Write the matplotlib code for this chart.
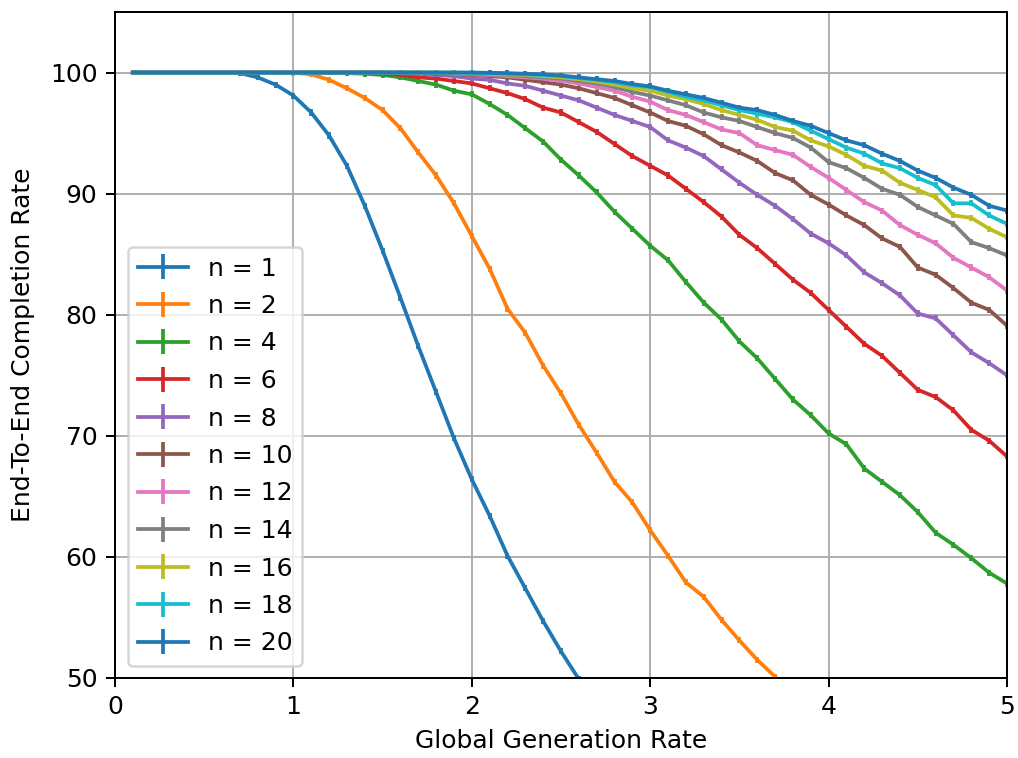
# -*- coding: utf-8 -*-

import numpy as np
import matplotlib
matplotlib.use("Agg")
import matplotlib.pyplot as plt

# ---------------
# Data
# ---------------

# Global generation rate, 0.1 .. 5.0
rate = [0.1, 0.2, 0.3, 0.4, 0.5, 0.6, 0.7, 0.8, 0.9, 1.0,
        1.1, 1.2, 1.3, 1.4, 1.5, 1.6, 1.7, 1.8, 1.9, 2.0,
        2.1, 2.2, 2.3, 2.4, 2.5, 2.6, 2.7, 2.8, 2.9, 3.0,
        3.1, 3.2, 3.3, 3.4, 3.5, 3.6, 3.7, 3.8, 3.9, 4.0,
        4.1, 4.2, 4.3, 4.4, 4.5, 4.6, 4.7, 4.8, 4.9, 5.0]

n_values = [1, 2, 4, 6, 8, 10, 12, 14, 16, 18, 20]

n1 = [100, 100, 100, 100, 100, 100, 99.95, 99.6, 99.0, 98.1,
      96.7, 94.8, 92.3, 89.0, 85.3, 81.4, 77.4, 73.6, 69.8, 66.4,
      63.4, 60.1, 57.4, 54.7, 52.2, 49.9, 47.6, 45.4, 43.3, 41.3,
      39.4, 37.6, 35.9, 34.3, 32.8, 31.4, 30.1, 28.9, 27.7, 26.6,
      25.6, 24.6, 23.7, 22.8, 22.0, 21.2, 20.5, 19.8, 19.1, 18.5]

n2 = [100, 100, 100, 100, 100, 100, 100, 100, 100, 99.98,
      99.85, 99.4, 98.7, 97.9, 96.9, 95.4, 93.4, 91.5, 89.2, 86.5,
      83.8, 80.5, 78.5, 75.8, 73.5, 70.9, 68.6, 66.2, 64.5, 62.2,
      60.1, 57.9, 56.7, 54.8, 53.1, 51.5, 50.1, 48.6, 47.2, 45.9,
      44.6, 43.4, 42.2, 41.1, 40.0, 39.0, 38.0, 37.1, 36.2, 35.3]

n4 = [100, 100, 100, 100, 100, 100, 100, 100, 100, 100,
      100, 100, 99.95, 99.9, 99.8, 99.6, 99.3, 99.0, 98.5, 98.2,
      97.4, 96.5, 95.4, 94.3, 92.8, 91.5, 90.1, 88.5, 87.1, 85.7,
      84.5, 82.7, 81.0, 79.6, 77.8, 76.4, 74.7, 73.0, 71.7, 70.2,
      69.3, 67.3, 66.2, 65.1, 63.7, 62.0, 61.0, 59.9, 58.7, 57.8]

n6 = [100, 100, 100, 100, 100, 100, 100, 100, 100, 100,
      100, 100, 100, 99.95, 99.9, 99.8, 99.6, 99.5, 99.3, 99.1,
      98.7, 98.3, 97.8, 97.1, 96.7, 95.9, 95.1, 94.1, 93.1, 92.3,
      91.5, 90.4, 89.3, 88.1, 86.6, 85.5, 84.2, 82.9, 81.8, 80.4,
      79.0, 77.6, 76.6, 75.2, 73.8, 73.2, 72.1, 70.5, 69.6, 68.3]

n8 = [100, 100, 100, 100, 100, 100, 100, 100, 100, 100,
      100, 100, 100, 100, 99.98, 99.95, 99.9, 99.8, 99.7, 99.5,
      99.4, 99.1, 98.9, 98.5, 98.1, 97.7, 97.1, 96.5, 96.0, 95.5,
      94.4, 93.8, 93.1, 92.0, 90.9, 89.9, 89.0, 87.9, 86.7, 85.9,
      84.9, 83.5, 82.6, 81.6, 80.1, 79.7, 78.3, 76.9, 76.0, 75.0]

n10 = [100, 100, 100, 100, 100, 100, 100, 100, 100, 100,
       100, 100, 100, 100, 100, 99.98, 99.95, 99.9, 99.85, 99.8,
       99.7, 99.6, 99.4, 99.2, 99.0, 98.7, 98.3, 97.9, 97.3, 96.7,
       96.0, 95.6, 94.9, 94.0, 93.4, 92.7, 91.7, 91.1, 89.9, 89.1,
       88.2, 87.4, 86.3, 85.6, 83.9, 83.3, 82.2, 81.0, 80.4, 79.1]

n12 = [100, 100, 100, 100, 100, 100, 100, 100, 100, 100,
       100, 100, 100, 100, 100, 100, 99.98, 99.95, 99.9, 99.85,
       99.8, 99.7, 99.6, 99.5, 99.3, 99.1, 98.8, 98.5, 98.0, 97.6,
       96.9, 96.5, 95.9, 95.3, 95.0, 94.0, 93.6, 93.2, 92.2, 91.3,
       90.3, 89.3, 88.6, 87.4, 86.6, 85.9, 84.7, 83.9, 83.1, 82.0]

n14 = [100, 100, 100, 100, 100, 100, 100, 100, 100, 100,
       100, 100, 100, 100, 100, 100, 100, 99.98, 99.95, 99.9,
       99.85, 99.8, 99.7, 99.6, 99.5, 99.3, 99.1, 98.8, 98.4, 98.1,
       97.7, 97.3, 96.7, 96.3, 96.0, 95.5, 95.0, 94.6, 93.8, 92.6,
       92.1, 91.3, 90.4, 89.9, 88.9, 88.2, 87.5, 86.0, 85.5, 84.9]

n16 = [100, 100, 100, 100, 100, 100, 100, 100, 100, 100,
       100, 100, 100, 100, 100, 100, 100, 100, 99.98, 99.95,
       99.9, 99.85, 99.8, 99.7, 99.6, 99.45, 99.25, 99.0, 98.7, 98.5,
       98.1, 97.8, 97.4, 96.9, 96.5, 96.1, 95.5, 95.2, 94.4, 93.9,
       93.2, 92.3, 91.9, 90.9, 90.3, 89.7, 88.2, 88.0, 87.1, 86.4]

n18 = [100, 100, 100, 100, 100, 100, 100, 100, 100, 100,
       100, 100, 100, 100, 100, 100, 100, 100, 100, 99.98,
       99.95, 99.9, 99.85, 99.8, 99.7, 99.55, 99.4, 99.2, 98.95, 98.8,
       98.4, 98.0, 97.7, 97.3, 96.9, 96.6, 96.3, 95.9, 95.2, 94.5,
       93.8, 93.3, 92.5, 92.1, 91.3, 90.7, 89.2, 89.2, 88.2, 87.5]

n20 = [100, 100, 100, 100, 100, 100, 100, 100, 100, 100,
       100, 100, 100, 100, 100, 100, 100, 100, 100, 100,
       99.98, 99.95, 99.9, 99.85, 99.75, 99.6, 99.45, 99.3, 99.05, 98.85,
       98.5, 98.2, 97.9, 97.5, 97.1, 96.9, 96.5, 96.0, 95.6, 95.0,
       94.4, 94.0, 93.3, 92.7, 91.9, 91.3, 90.5, 89.9, 89.0, 88.6]

curves = [n1, n2, n4, n6, n8, n10, n12, n14, n16, n18, n20]

# -------------
# Plot
# -------------

W, H, DPI = 1018, 758, 180
fig = plt.figure(figsize=(W / DPI, H / DPI), dpi=DPI)
fig.subplots_adjust(left=115 / W, right=1007 / W, bottom=1 - 678 / H, top=1 - 12 / H)
ax = fig.add_subplot(111)

x = np.array(rate)
for n, y in zip(n_values, curves):
    y = np.array(y, dtype=float)
    # small spread where the rate falls below 100
    err = np.where(y < 100, 0.25, 0.0)
    ax.errorbar(x, y, yerr=err, label="n = %d" % n)

ax.set_xlim(0, 5)
ax.set_ylim(50, 105)
ax.set_yticks([50, 60, 70, 80, 90, 100])
ax.grid(True)
ax.set_xlabel("Global Generation Rate")
ax.set_ylabel("End-To-End Completion Rate", labelpad=6)
ax.legend(loc="lower left", labelspacing=0.54)

fig.savefig("out.png", dpi=DPI)
